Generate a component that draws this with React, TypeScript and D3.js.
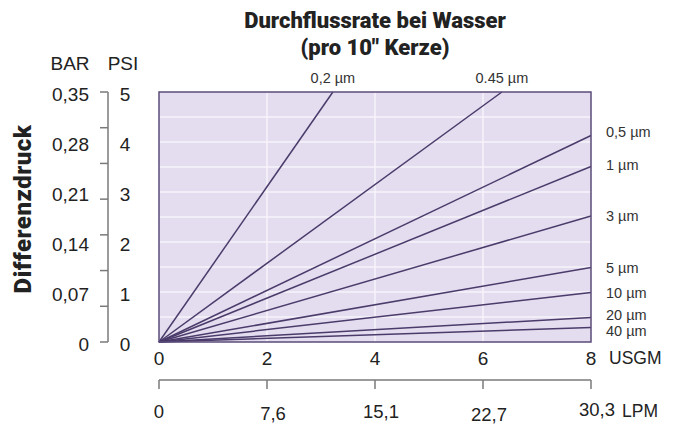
import React from "react";
import * as d3 from "d3";

const usgmTicks = [0, 2, 4, 6, 8];
const lpmLabels = ["0", "7,6", "15,1", "22,7", "30,3"];
const lpmDy = [0, 2, 0, 3, -2];
const psiTicks = [0, 1, 2, 3, 4, 5];
const barLabels = ["0", "0,07", "0,14", "0,21", "0,28", "0,35"];
const barTicks = [0, 0.05, 0.1, 0.15, 0.2, 0.25, 0.3, 0.35];
const psiGrid = [0.5, 1, 1.5, 2, 2.5, 3, 3.5, 4, 4.5];
const usgmGrid = [2, 4, 6];

const seriesNames = ["0,2 µm", "0.45 µm", "0,5 µm", "1 µm", "3 µm", "5 µm", "10 µm", "20 µm", "40 µm"];
// end points (USGM, PSI) of each straight line from origin
const seriesEndX = [3.22, 6.35, 8, 8, 8, 8, 8, 8, 8];
const seriesEndY = [5, 5, 4.13, 3.51, 2.52, 1.49, 0.99, 0.49, 0.29];
const labelPsi = [null, null, 4.2, 3.55, 2.52, 1.48, 0.98, 0.55, 0.22];

export default function App() {
  const W = 694, H = 428;
  const x = d3.scaleLinear().domain([0, 8]).range([159, 591]);
  const y = d3.scaleLinear().domain([0, 5]).range([342, 92]);
  const bar = d3.scaleLinear().domain([0, 0.35]).range([342, 92]);
  const line = d3.line<[number, number]>().x(d => x(d[0])).y(d => y(d[1]));
  const font = "'Liberation Sans', Arial, sans-serif";
  const boldFont = "Roboto, 'Liberation Sans', Arial, sans-serif";
  const lineColor = "#4a3b6b";
  const axisColor = "#7a7a7a";
  const txt = "#222";
  return (
    <svg width={W} height={H} style={{ position: "absolute", left: 0, top: 0, background: "#fff" }} fontFamily={font}>
      <text x={375} y={28} textAnchor="middle" fontSize={22} fontWeight={900} fontFamily={boldFont} fill={txt}>Durchflussrate bei Wasser</text>
      <text x={375} y={55} textAnchor="middle" fontSize={22} fontWeight={900} fontFamily={boldFont} fill={txt}>(pro 10" Kerze)</text>

      {/* plot */}
      <rect x={x(0)} y={y(5)} width={x(8) - x(0)} height={y(0) - y(5)} fill="#e4ddef" />
      {psiGrid.map(v => (
        <line key={"gy" + v} x1={x(0)} x2={x(8)} y1={y(v)} y2={y(v)} stroke="#f6f3fa" strokeWidth={1.5} />
      ))}
      {usgmGrid.map(v => (
        <line key={"gx" + v} x1={x(v)} x2={x(v)} y1={y(0)} y2={y(5)} stroke="#f6f3fa" strokeWidth={1.5} />
      ))}
      {seriesNames.map((n, i) => (
        <path key={n} d={line([[0, 0], [seriesEndX[i], seriesEndY[i]]]) || ""} stroke={lineColor} strokeWidth={1.5} fill="none" />
      ))}
      <rect x={x(0)} y={y(5)} width={x(8) - x(0)} height={y(0) - y(5)} fill="none" stroke="#5b4b7a" strokeWidth={1.5} />

      {/* series labels */}
      <text x={x(seriesEndX[0])} y={y(5) - 9} textAnchor="middle" fontSize={14.5} fill="#333">{seriesNames[0]}</text>
      <text x={x(seriesEndX[1])} y={y(5) - 9} textAnchor="middle" fontSize={14.5} fill="#333">{seriesNames[1]}</text>
      {seriesNames.slice(2).map((n, j) => (
        <text key={"l" + n} x={606} y={y(labelPsi[j + 2] as number)} dy="0.35em" fontSize={14.5} fill="#333">{n}</text>
      ))}

      {/* left axes */}
      <text x={70} y={70} textAnchor="middle" fontSize={19} fill={txt}>BAR</text>
      <text x={123} y={70} textAnchor="middle" fontSize={19} fill={txt}>PSI</text>
      <line x1={108} x2={108} y1={bar(0)} y2={bar(0.35)} stroke={axisColor} strokeWidth={1.5} />
      {barTicks.map(v => (
        <line key={"bt" + v} x1={100} x2={108} y1={bar(v)} y2={bar(v)} stroke={axisColor} strokeWidth={1.5} />
      ))}
      {psiTicks.map((v, i) => (
        <text key={"bl" + v} x={89} y={y(v) + 2} dy="0.35em" textAnchor="end" fontSize={19} fill={txt}>{barLabels[i]}</text>
      ))}
      {psiTicks.map(v => (
        <text key={"pl" + v} x={125} y={y(v) + 2} dy="0.35em" textAnchor="middle" fontSize={19} fill={txt}>{v}</text>
      ))}
      <text transform="translate(31,209) rotate(-90)" textAnchor="middle" fontSize={24} fontWeight={900} fontFamily={boldFont} letterSpacing={0.5} fill={txt}>Differenzdruck</text>

      {/* bottom axes */}
      {usgmTicks.map(v => (
        <text key={"ux" + v} x={x(v)} y={358} dy="0.35em" textAnchor="middle" fontSize={19} fill={txt}>{v}</text>
      ))}
      <text x={609} y={358} dy="0.35em" fontSize={17.5} fill={txt}>USGM</text>
      <line x1={x(0)} x2={x(8)} y1={380} y2={380} stroke={axisColor} strokeWidth={1.5} />
      {usgmTicks.map(v => (
        <line key={"lt" + v} x1={x(v)} x2={x(v)} y1={380} y2={389} stroke={axisColor} strokeWidth={1.5} />
      ))}
      {usgmTicks.map((v, i) => (
        <text key={"lp" + v} x={x(v) + (i === 0 ? 0 : 6)} y={412 + lpmDy[i]} dy="0.35em" textAnchor="middle" fontSize={18.5} fill={txt}>{lpmLabels[i]}</text>
      ))}
      <text x={622} y={411} dy="0.35em" fontSize={17.5} fill={txt}>LPM</text>
    </svg>
  );
}
